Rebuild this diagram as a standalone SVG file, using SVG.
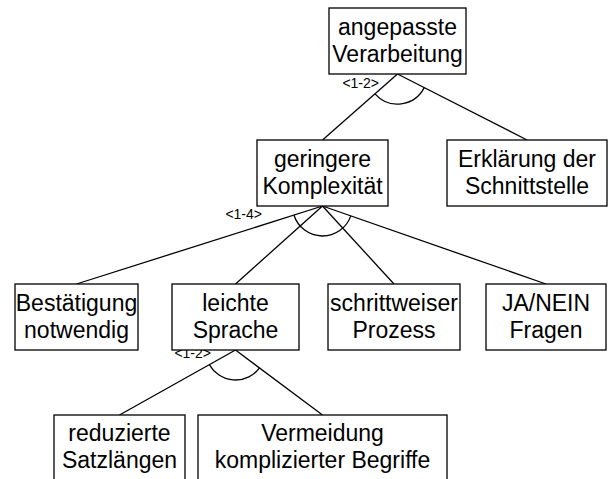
<svg xmlns="http://www.w3.org/2000/svg" width="608" height="479" viewBox="0 0 608 479">
  <style>
    .box { fill: #ffffff; stroke: #000000; stroke-width: 1.3; }
    .lbl { font-family: "Liberation Sans", Arial, sans-serif; font-size: 23px; fill: #000000; text-anchor: middle; }
    .card { font-family: "Liberation Sans", Arial, sans-serif; font-size: 14px; fill: #000000; text-anchor: end; }
    .edge { fill: none; stroke: #000000; stroke-width: 1.3; }
  </style>
  <rect width="608" height="479" fill="#ffffff"/>

  <!-- connectors and AND-arcs -->
  <g id="connectors">
    <line class="edge" x1="397.5" y1="74" x2="322.5" y2="140"/>
    <line class="edge" x1="397.5" y1="74" x2="527" y2="140"/>
    <path class="edge" d="M 374.97 93.83 A 30 30 0 0 0 424.23 87.62"/>
    <text class="card" x="379" y="88">&lt;1-2&gt;</text>

    <line class="edge" x1="322.5" y1="206" x2="76.5" y2="284"/>
    <line class="edge" x1="322.5" y1="206" x2="235.5" y2="284"/>
    <line class="edge" x1="322.5" y1="206" x2="394" y2="284"/>
    <line class="edge" x1="322.5" y1="206" x2="546" y2="284"/>
    <path class="edge" d="M 293.9 215.07 A 30 30 0 0 0 350.82 215.88"/>
    <text class="card" x="262" y="219">&lt;1-4&gt;</text>

    <line class="edge" x1="235.5" y1="350" x2="119.5" y2="415"/>
    <line class="edge" x1="235.5" y1="350" x2="322.5" y2="415"/>
    <path class="edge" d="M 209.33 364.66 A 30 30 0 0 0 259.53 367.96"/>
    <text class="card" x="211" y="358">&lt;1-2&gt;</text>
  </g>

  <g id="n-angepasste-verarbeitung">
    <rect class="box" x="329" y="8" width="137" height="66"/>
    <text class="lbl" x="397.5" y="35">angepasste</text>
    <text class="lbl" x="397.5" y="62">Verarbeitung</text>
  </g>

  <g id="n-geringere-komplexitaet">
    <rect class="box" x="257" y="140" width="131" height="66"/>
    <text class="lbl" x="322.5" y="167">geringere</text>
    <text class="lbl" x="322.5" y="194">Komplexität</text>
  </g>

  <g id="n-erklaerung-schnittstelle">
    <rect class="box" x="447" y="140" width="160" height="66"/>
    <text class="lbl" x="527" y="167">Erklärung der</text>
    <text class="lbl" x="527" y="194">Schnittstelle</text>
  </g>

  <g id="n-bestaetigung">
    <rect class="box" x="15" y="284" width="123" height="66"/>
    <text class="lbl" x="76.5" y="311">Bestätigung</text>
    <text class="lbl" x="76.5" y="338">notwendig</text>
  </g>

  <g id="n-leichte-sprache">
    <rect class="box" x="172" y="284" width="127" height="66"/>
    <text class="lbl" x="235.5" y="311">leichte</text>
    <text class="lbl" x="235.5" y="338">Sprache</text>
  </g>

  <g id="n-schrittweiser-prozess">
    <rect class="box" x="328" y="284" width="132" height="66"/>
    <text class="lbl" x="394" y="311">schrittweiser</text>
    <text class="lbl" x="394" y="338">Prozess</text>
  </g>

  <g id="n-ja-nein-fragen">
    <rect class="box" x="486" y="284" width="120" height="66"/>
    <text class="lbl" x="546" y="311">JA/NEIN</text>
    <text class="lbl" x="546" y="338">Fragen</text>
  </g>

  <g id="n-reduzierte-satzlaengen">
    <rect class="box" x="54" y="415" width="131" height="66"/>
    <text class="lbl" x="119.5" y="441">reduzierte</text>
    <text class="lbl" x="119.5" y="468">Satzlängen</text>
  </g>

  <g id="n-vermeidung-begriffe">
    <rect class="box" x="198" y="415" width="249" height="66"/>
    <text class="lbl" x="322.5" y="441">Vermeidung</text>
    <text class="lbl" x="322.5" y="468">komplizierter Begriffe</text>
  </g>
</svg>
